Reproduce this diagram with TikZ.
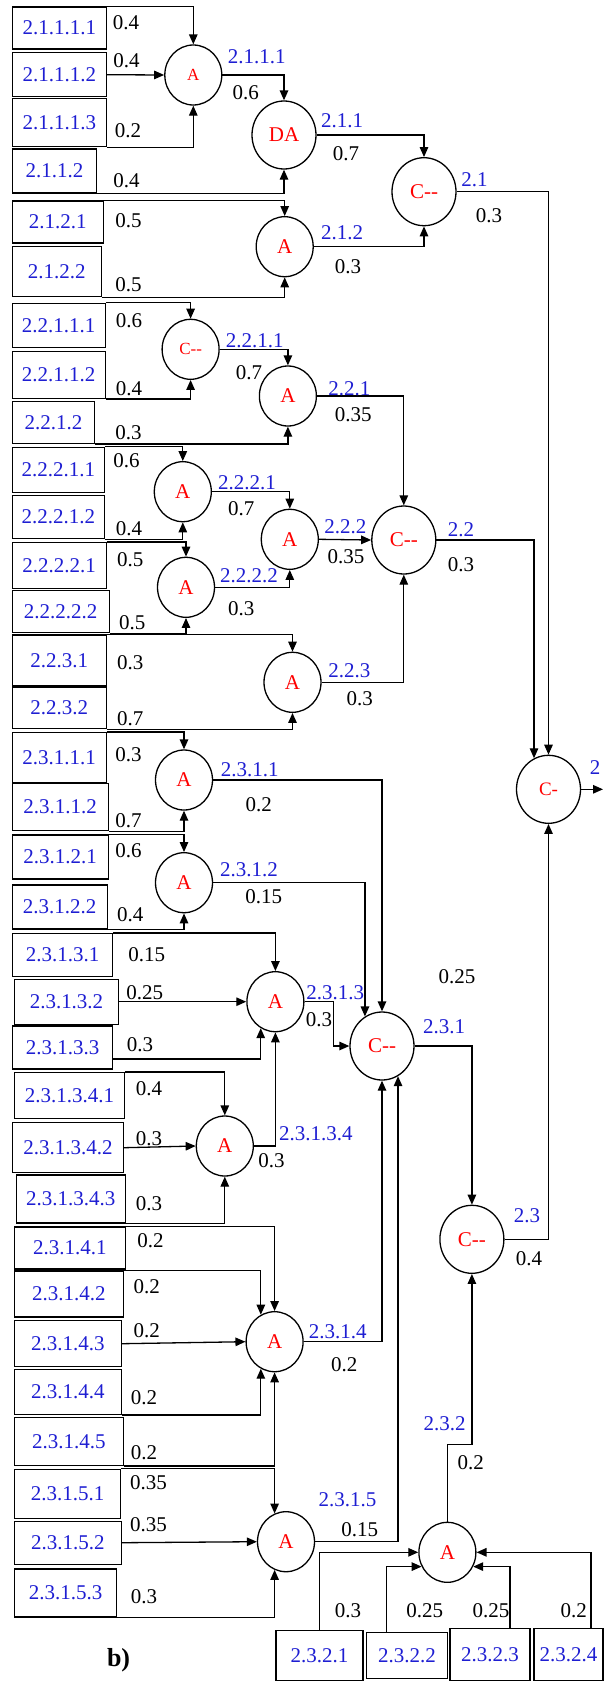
\documentclass[tikz,border=0pt]{standalone}
\usepackage{fontspec}
\setmainfont{Liberation Serif}
\usetikzlibrary{shapes.geometric, arrows.meta}
\definecolor{idblue}{RGB}{30, 30, 210}
\definecolor{opred}{RGB}{255, 0, 0}

\begin{document}
\begin{tikzpicture}[x=1pt, y=-1pt,
  leaf/.style={draw, line width=1.3pt, inner sep=0pt, text=idblue, font=\fontsize{21}{24}\selectfont},
  gate/.style={draw, ellipse, line width=1.3pt, inner sep=0pt, minimum width=57pt, minimum height=60pt, text=opred, font=\fontsize{21}{24}\selectfont},
  gate big/.style={minimum width=64pt, minimum height=68pt},
  gate small/.style={font=\fontsize{17}{20}\selectfont},
  wire/.style={line width=1.3pt, -{Triangle[length=10pt, width=8.5pt]}},
  wt/.style={inner sep=0pt, font=\fontsize{21}{24}\selectfont},
  tag/.style={inner sep=0pt, text=idblue, font=\fontsize{21}{24}\selectfont}]
  \useasboundingbox (0,0) rectangle (605,1684);

  % Branch 2.1
  \node[leaf, minimum width=94pt, minimum height=42pt] (l21111) at (59.5, 27.9) {2.1.1.1.1};
  \node[leaf, minimum width=94pt, minimum height=44pt] (l21112) at (59.5, 74.7) {2.1.1.1.2};
  \node[leaf, minimum width=94pt, minimum height=48pt] (l21113) at (59.5, 122.5) {2.1.1.1.3};
  \node[leaf, minimum width=84pt, minimum height=44pt] (l2112) at (54.5, 170.9) {2.1.1.2};
  \node[leaf, minimum width=91pt, minimum height=42pt] (l2121) at (57.7, 221.9) {2.1.2.1};
  \node[leaf, minimum width=89pt, minimum height=50pt] (l2122) at (56.7, 271.7) {2.1.2.2};

  \node[gate, gate small] (a2111) at (193.3, 75) {A};
  \node[gate, gate big] (d211) at (284, 135) {DA};
  \node[gate] (a212) at (284.7, 246.7) {A};
  \node[gate, gate big] (c21) at (424, 191.7) {C-{}-};

  \draw[wire] (l21111.north east) -| (a2111.north);
  \draw[wire] (l21112.east) -- (a2111.west);
  \draw[wire] (l21113.south east) -| (a2111.south);
  \draw[wire] (l2112.south east) -| (d211.south);
  \draw[wire] (a2111.east) -| (d211.north);
  \draw[wire] (d211.east) -| (c21.north);
  \draw[wire] (l2121.north east) -| (a212.north);
  \draw[wire] (l2122.south east) -| (a212.south);
  \draw[wire] (a212.east) -| (c21.south);

  \node[wt] (w21111) at (126, 22.7) {0.4};
  \node[wt] (w21112) at (126.4, 60.7) {0.4};
  \node[wt] (w21113) at (128, 130.7) {0.2};
  \node[wt] (w2112) at (126.4, 181) {0.4};
  \node[tag] (n2111) at (256.7, 56.7) {2.1.1.1};
  \node[wt] (w2111) at (245.8, 92.7) {0.6};
  \node[tag] (n211) at (342, 120.7) {2.1.1};
  \node[wt] (w211) at (346, 154) {0.7};
  \node[wt] (w2121) at (128.4, 220.7) {0.5};
  \node[wt] (w2122) at (128.4, 285) {0.5};
  \node[tag] (n212) at (342, 232.3) {2.1.2};
  \node[wt] (w212) at (348, 266.7) {0.3};
  \node[tag] (n21) at (474.6, 180) {2.1};
  \node[wt] (w21) at (489, 216) {0.3};

  % Branch 2.2
  \node[leaf, minimum width=93pt, minimum height=44pt] (l22111) at (58.7, 325.3) {2.2.1.1.1};
  \node[leaf, minimum width=93pt, minimum height=47pt] (l22112) at (58.7, 374.7) {2.2.1.1.2};
  \node[leaf, minimum width=82pt, minimum height=42pt] (l2212) at (53.5, 422.2) {2.2.1.2};
  \node[leaf, minimum width=92pt, minimum height=45pt] (l22211) at (58.3, 469.8) {2.2.2.1.1};
  \node[leaf, minimum width=92pt, minimum height=43pt] (l22212) at (58.3, 517) {2.2.2.1.2};
  \node[leaf, minimum width=94pt, minimum height=46pt] (l22221) at (59.2, 565.5) {2.2.2.2.1};
  \node[leaf, minimum width=97pt, minimum height=42pt] (l22222) at (60.7, 611.7) {2.2.2.2.2};
  \node[leaf, minimum width=94pt, minimum height=51pt] (l2231) at (59.2, 660.5) {2.2.3.1};
  \node[leaf, minimum width=94pt, minimum height=41pt] (l2232) at (59.2, 708) {2.2.3.2};

  \node[gate, gate small] (c2211) at (190.6, 349.3) {C-{}-};
  \node[gate] (a221) at (287.9, 396) {A};
  \node[gate] (a2221) at (182.8, 491.7) {A};
  \node[gate] (a222) at (289.8, 539.3) {A};
  \node[gate] (a2222) at (186, 587.3) {A};
  \node[gate] (a223) at (292.5, 682.3) {A};
  \node[gate, gate big] (c22) at (403.8, 540) {C-{}-};

  \draw[wire] (l22111.north east) -| (c2211.north);
  \draw[wire] (l22112.south east) -| (c2211.south);
  \draw[wire] (l2212.south east) -| (a221.south);
  \draw[wire] (c2211.east) -| (a221.north);
  \draw[wire] (a221.east) -| (c22.north);
  \draw[wire] (l22211.north east) -| (a2221.north);
  \draw[wire] (l22212.south east) -| (a2221.south);
  \draw[wire] (a2221.east) -| (a222.north);
  \draw[wire] (a222.east) -- (c22.west);
  \draw[wire] (l22221.north east) -| (a2222.north);
  \draw[wire] (l22222.south east) -| (a2222.south);
  \draw[wire] (a2222.east) -| (a222.south);
  \draw[wire] (l2231.north east) -| (a223.north);
  \draw[wire] (l2232.south east) -| (a223.south);
  \draw[wire] (a223.east) -| (c22.south);

  \node[wt] (w22111) at (129, 320.7) {0.6};
  \node[wt] (w22112) at (129, 388.7) {0.4};
  \node[wt] (w2212) at (128.4, 432.7) {0.3};
  \node[tag] (n2211) at (254.8, 341) {2.2.1.1};
  \node[wt] (w2211) at (249, 372.7) {0.7};
  \node[tag] (n221) at (349.3, 388.3) {2.2.1};
  \node[wt] (w221) at (353.2, 415) {0.35};
  \node[wt] (w22211) at (126.4, 460.7) {0.6};
  \node[wt] (w22212) at (129, 528.7) {0.4};
  \node[tag] (n2221) at (247, 482.7) {2.2.2.1};
  \node[wt] (w2221) at (241.2, 508.3) {0.7};
  \node[tag] (n222) at (345.4, 526.7) {2.2.2};
  \node[wt] (w222) at (346, 556.7) {0.35};
  \node[wt] (w22221) at (130.3, 560) {0.5};
  \node[wt] (w22222) at (132.3, 622.7) {0.5};
  \node[tag] (n2222) at (249, 576) {2.2.2.2};
  \node[wt] (w2222) at (241.2, 608.3) {0.3};
  \node[wt] (w2231) at (130.3, 662.7) {0.3};
  \node[wt] (w2232) at (130.3, 718.3) {0.7};
  \node[tag] (n223) at (349.3, 670.7) {2.2.3};
  \node[wt] (w223) at (359.8, 698.3) {0.3};
  \node[tag] (n22) at (461, 530) {2.2};
  \node[wt] (w22) at (461, 565) {0.3};

  % Root
  \node[gate, gate big, font=\fontsize{19}{22}\selectfont] (c2) at (548.5, 789.3) {C-};
  \coordinate (out) at (603, 789.3);
  \draw[wire] (c21.east) -| (c2.north);
  \draw[wire] (c22.east) -| (c2.115);
  \draw[wire] (c2.east) -- (out);
  \node[tag] (n2) at (595, 767.3) {2};

  % Branch 2.3.1
  \node[leaf, minimum width=94pt, minimum height=50pt] (l23111) at (59.2, 757.7) {2.3.1.1.1};
  \node[leaf, minimum width=96pt, minimum height=47pt] (l23112) at (60.2, 807) {2.3.1.1.2};
  \node[leaf, minimum width=96pt, minimum height=44pt] (l23121) at (60.2, 857) {2.3.1.2.1};
  \node[leaf, minimum width=95pt, minimum height=44pt] (l23122) at (59.7, 907) {2.3.1.2.2};
  \node[leaf, minimum width=100pt, minimum height=43pt] (l23131) at (62.6, 955) {2.3.1.3.1};
  \node[leaf, minimum width=104pt, minimum height=45pt] (l23132) at (66.5, 1001.7) {2.3.1.3.2};
  \node[leaf, minimum width=100pt, minimum height=43pt] (l23133) at (62.6, 1047.4) {2.3.1.3.3};
  \node[leaf, minimum width=110pt, minimum height=46pt] (l231341) at (69.5, 1095.5) {2.3.1.3.4.1};
  \node[leaf, minimum width=111pt, minimum height=50pt] (l231342) at (68, 1147.7) {2.3.1.3.4.2};
  \node[leaf, minimum width=109pt, minimum height=48pt] (l231343) at (70.8, 1198.9) {2.3.1.3.4.3};
  \node[leaf, minimum width=111pt, minimum height=42pt] (l23141) at (69.9, 1247.9) {2.3.1.4.1};
  \node[leaf, minimum width=109pt, minimum height=46pt] (l23142) at (68.9, 1293.9) {2.3.1.4.2};
  \node[leaf, minimum width=107pt, minimum height=46pt] (l23143) at (67.9, 1343.7) {2.3.1.4.3};
  \node[leaf, minimum width=107pt, minimum height=45pt] (l23144) at (67.9, 1391.7) {2.3.1.4.4};
  \node[leaf, minimum width=109pt, minimum height=48pt] (l23145) at (68.9, 1441.2) {2.3.1.4.5};
  \node[leaf, minimum width=106pt, minimum height=49pt] (l23151) at (67.5, 1493.7) {2.3.1.5.1};
  \node[leaf, minimum width=107pt, minimum height=43pt] (l23152) at (67.9, 1542.7) {2.3.1.5.2};
  \node[leaf, minimum width=102pt, minimum height=48pt] (l23153) at (65.6, 1592.9) {2.3.1.5.3};

  \node[gate] (a2311) at (184, 780) {A};
  \node[gate] (a2312) at (184, 882.7) {A};
  \node[gate] (a2313) at (275.4, 1001.7) {A};
  \node[gate] (a23134) at (224.8, 1146) {A};
  \node[gate] (a2314) at (274.6, 1341.7) {A};
  \node[gate] (a2315) at (286, 1541.7) {A};
  \node[gate, gate big] (c231) at (382, 1046) {C-{}-};

  \draw[wire] (l23111.north east) -| (a2311.north);
  \draw[wire] (l23112.south east) -| (a2311.south);
  \draw[wire] (a2311.east) -| (c231.north);
  \draw[wire] (l23121.north east) -| (a2312.north);
  \draw[wire] (l23122.south east) -| (a2312.south);
  \draw[wire] (a2312.east) -| (c231.120);
  \draw[wire] (l23131.north east) -| (a2313.north);
  \draw[wire] (l23132.east) -- (a2313.west);
  \draw[wire] (l23133.-13) -| (a2313.241);
  \draw[wire] (a2313.east) -- ++(29,0) |- (c231.west);
  \draw[wire] (l231341.north east) -| (a23134.north);
  \draw[wire] (l231342.east) -- (a23134.west);
  \draw[wire] (l231343.south east) -| (a23134.south);
  \draw[wire] (a23134.east) -| (a2313.south);
  \draw[wire] (l23141.north east) -| (a2314.north);
  \draw[wire] (l23142.north east) -| (a2314.117);
  \draw[wire] (l23143.east) -- (a2314.west);
  \draw[wire] (l23144.south east) -| (a2314.243);
  \draw[wire] (l23145.south east) -| (a2314.south);
  \draw[wire] (a2314.east) -| (c231.south);
  \draw[wire] (l23151.north east) -| (a2315.112);
  \draw[wire] (l23152.east) -- (a2315.west);
  \draw[wire] (l23153.south east) -| (a2315.248);
  \draw[wire] (a2315.east) -| (c231.-62);

  \node[wt] (w23111) at (128.4, 754.3) {0.3};
  \node[wt] (w23112) at (128.4, 820.7) {0.7};
  \node[tag] (n2311) at (249.7, 770) {2.3.1.1};
  \node[wt] (w2311) at (258.7, 805) {0.2};
  \node[wt] (w23121) at (128.4, 850.7) {0.6};
  \node[wt] (w23122) at (130.3, 915) {0.4};
  \node[tag] (n2312) at (249, 869.3) {2.3.1.2};
  \node[wt] (w2312) at (263.7, 896.7) {0.15};
  \node[wt] (w23131) at (146.7, 955) {0.15};
  \node[wt] (w23132) at (144.7, 992.7) {0.25};
  \node[wt] (w23133) at (140, 1045) {0.3};
  \node[tag] (n2313) at (335.3, 992.7) {2.3.1.3};
  \node[wt] (w2313) at (319, 1019.3) {0.3};
  \node[wt] (w231341) at (149, 1088.3) {0.4};
  \node[wt] (w231342) at (149, 1138.3) {0.3};
  \node[wt] (w231343) at (149, 1204) {0.3};
  \node[tag] (n23134) at (315.9, 1134) {2.3.1.3.4};
  \node[wt] (w23134) at (271.5, 1160.7) {0.3};
  \node[wt] (w23141) at (150.5, 1240.7) {0.2};
  \node[wt] (w23142) at (146.7, 1286.7) {0.2};
  \node[wt] (w23143) at (146.7, 1330.7) {0.2};
  \node[wt] (w23144) at (144, 1397.3) {0.2};
  \node[wt] (w23145) at (144, 1452.7) {0.2};
  \node[tag] (n2314) at (337.7, 1331.7) {2.3.1.4};
  \node[wt] (w2314) at (344.3, 1365) {0.2};
  \node[wt] (w23151) at (148.6, 1482.7) {0.35};
  \node[wt] (w23152) at (148.6, 1525) {0.35};
  \node[wt] (w23153) at (144, 1596.7) {0.3};
  \node[tag] (n2315) at (347.4, 1500) {2.3.1.5};
  \node[wt] (w2315) at (359.8, 1530) {0.15};
  \node[tag] (n231) at (444.2, 1026.7) {2.3.1};
  \node[wt] (w231) at (457, 976.7) {0.25};

  % Branch 2.3.2
  \node[leaf, minimum width=87pt, minimum height=50pt] (l2321) at (319.6, 1655.7) {2.3.2.1};
  \node[leaf, minimum width=81pt, minimum height=46pt] (l2322) at (407.1, 1655.7) {2.3.2.2};
  \node[leaf, minimum width=80pt, minimum height=52pt] (l2323) at (489.9, 1654.7) {2.3.2.3};
  \node[leaf, minimum width=69pt, minimum height=52pt] (l2324) at (568.5, 1654.7) {2.3.2.4};
  \node[gate] (a232) at (447.4, 1552.3) {A};

  \draw[wire] (l2321.north) |- (a232.west);
  \draw[wire] (l2322.131) |- (a232.209);
  \draw[wire] (l2323.53) |- (a232.-29);
  \draw[wire] (l2324.50) |- (a232.east);

  \node[wt] (w2321) at (348, 1610.7) {0.3};
  \node[wt] (w2322) at (424.8, 1610.7) {0.25};
  \node[wt] (w2323) at (491, 1610.7) {0.25};
  \node[wt] (w2324) at (573.8, 1610.7) {0.2};

  % Branch 2.3
  \node[gate, gate big] (c23) at (471.9, 1239.3) {C-{}-};
  \draw[wire] (c231.east) -| (c23.north);
  \draw[wire] (a232.north) -- ++(0,-77) -| (c23.south);
  \draw[wire] (c23.east) -| (c2.south);
  \node[tag] (n232) at (444.6, 1423.3) {2.3.2};
  \node[wt] (w232) at (470.7, 1462.7) {0.2};
  \node[tag] (n23) at (527, 1216) {2.3};
  \node[wt] (w23) at (529, 1258.3) {0.4};

  \node[font=\fontsize{26}{30}\selectfont\bfseries] (caption) at (118.6, 1660) {b)};
\end{tikzpicture}
\end{document}
